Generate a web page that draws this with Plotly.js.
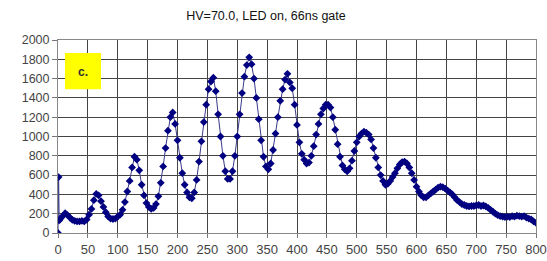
<!DOCTYPE html>
<html>
<head>
<meta charset="utf-8">
<script src="https://cdn.plot.ly/plotly-3.0.1.min.js"></script>
<style>html,body{margin:0;padding:0;background:#fff;}#chart{width:547px;height:261px;}</style>
</head>
<body>
<div id="chart"></div>
<script>
const chartTitle = "HV=70.0, LED on, 66ns gate";
const panelLabel = "c.";
const xTickVals = [0,50,100,150,200,250,300,350,400,450,500,550,600,650,700,750,800];
const yTickVals = [0,200,400,600,800,1000,1200,1400,1600,1800,2000];

const xValues = [0,1,2,4,8,12,16,20,24,28,32,36,40,44,48,52,56,60,64,68,72,76,80,84,88,92,96,100,
104,108,112,116,120,124,128,132,136,140,144,148,152,156,160,164,168,172,176,180,184,188,192,196,200,
204,208,212,216,220,224,228,232,236,240,244,248,252,256,260,264,268,272,276,280,284,288,292,296,300,
304,308,312,316,320,324,328,332,336,340,344,348,352,356,360,364,368,372,376,380,384,388,392,396,400,
404,408,412,416,420,424,428,432,436,440,444,448,452,456,460,464,468,472,476,480,484,488,492,496,500,
504,508,512,516,520,524,528,532,536,540,544,548,552,556,560,564,568,572,576,580,584,588,592,596,600,
604,608,612,616,620,624,628,632,636,640,644,648,652,656,660,664,668,672,676,680,684,688,692,696,700,
704,708,712,716,720,724,728,732,736,740,744,748,752,756,760,764,768,772,776,780,784,788,792,796,800];

const counts = [0,580,130,150,175,205,185,160,135,125,120,120,125,120,140,190,250,340,405,390,330,270,215,170,150,145,150,170,
190,240,320,430,540,680,790,760,650,500,390,310,270,250,260,300,380,520,690,880,1060,1200,1250,1130,960,
780,620,500,420,370,360,420,550,740,950,1150,1330,1490,1570,1610,1470,1230,1000,800,640,560,560,640,800,1000,
1230,1450,1620,1740,1820,1750,1600,1400,1180,960,790,690,660,720,860,1030,1200,1370,1490,1590,1650,1560,1500,1330,1120,
940,820,760,720,730,800,900,1020,1130,1230,1290,1330,1330,1300,1200,1070,920,790,700,660,640,670,750,850,940,
1000,1030,1050,1040,1020,970,880,780,680,600,540,500,510,540,580,620,670,710,735,740,720,680,620,550,480,
430,390,370,370,390,410,430,450,470,480,475,460,440,420,400,370,340,320,300,290,280,275,280,280,285,
290,280,285,275,260,240,220,200,185,175,170,165,170,165,175,170,180,175,170,175,160,150,140,120,105];

const trace = {
  x: xValues, y: counts, type: 'scatter', mode: 'lines+markers',
  line: {color: '#3a3a8a', width: 1},
  marker: {symbol: 'diamond', size: 6, color: '#000080'},
  hoverinfo: 'skip', showlegend: false
};

const xTickFont = {family: 'Liberation Sans, Arial, sans-serif', size: 13, color: '#444'};
const yTickFont = {family: 'Liberation Sans, Arial, sans-serif', size: 12.5, color: '#444'};

const layout = {
  width: 547, height: 261,
  margin: {l: 58, r: 11, t: 40, b: 28},
  paper_bgcolor: '#fff', plot_bgcolor: '#fff',
  title: {text: chartTitle, x: 266/547, xanchor: 'center', y: 1 - 16/261, yanchor: 'middle',
          font: {family: 'Liberation Sans, Arial, sans-serif', size: 12.5, color: '#111'}},
  xaxis: {range: [0, 800], tickvals: xTickVals, ticktext: xTickVals.map(String),
          showgrid: true, gridcolor: '#444', gridwidth: 1, zeroline: false,
          showline: true, linecolor: '#888', linewidth: 1, mirror: true,
          ticks: 'outside', ticklen: 4, tickcolor: '#777', tickfont: xTickFont},
  yaxis: {range: [0, 2000], tickvals: yTickVals, ticktext: yTickVals.map(String),
          showgrid: true, gridcolor: '#444', gridwidth: 1, zeroline: false,
          showline: true, linecolor: '#888', linewidth: 1, mirror: true,
          ticks: 'outside', ticklen: 5, tickcolor: '#777', tickfont: yTickFont},
  shapes: [{type: 'rect', xref: 'paper', yref: 'paper', x0: 0.0146, x1: 0.09, y0: 0.745, y1: 0.932,
            fillcolor: '#ffff00', line: {width: 0}, layer: 'above'}],
  annotations: [{text: '<b>' + panelLabel + '</b>', xref: 'paper', yref: 'paper', x: 0.052, y: 0.835,
                 xanchor: 'center', yanchor: 'middle', showarrow: false,
                 font: {family: 'Liberation Sans, Arial, sans-serif', size: 12, color: '#333'}}]
};

Plotly.newPlot('chart', [trace], layout, {displayModeBar: false, staticPlot: true});
</script>
</body>
</html>
